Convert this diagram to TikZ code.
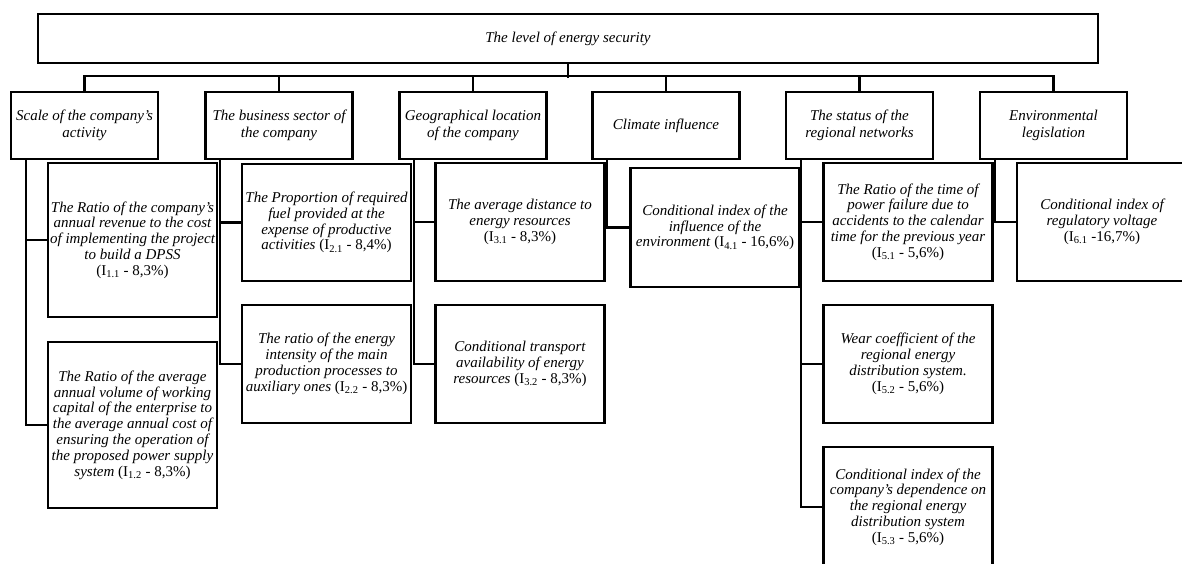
\documentclass[tikz,border=0pt]{standalone}
\usepackage{fontspec}
\setmainfont{Liberation Serif}
\usetikzlibrary{positioning}
\newcommand{\indic}[2]{\textup{(I\textsubscript{#1} - #2\%)}}

\begin{document}
\begin{tikzpicture}[
        x=1pt, y=-1pt,
        every node/.style={font=\fontsize{15}{15.8}\selectfont\itshape},
        box/.style={draw, line width=2.6pt, inner sep=0pt, align=center, minimum width=169pt},
        head/.style={box, minimum width=147pt, minimum height=67pt, font=\fontsize{15}{17}\selectfont\itshape},
        link/.style={line width=2.4pt},
    ]
        \useasboundingbox (0,0) rectangle (1182,563);
        \clip (0,0) rectangle (1182,563);

        % top level
        \node[box, minimum width=1060pt, minimum height=49pt] (top) at (568,38.5) {The level of energy security};

        % factor groups
        \node[head] (cat1) at (84.5,125.5) {Scale of the company's\\activity};
        \node[head] (cat2) at (279,125.5) {The business sector of\\the company};
        \node[head] (cat3) at (473,125.5) {Geographical location\\of the company};
        \node[head] (cat4) at (666,125.5) {Climate influence};
        \node[head] (cat5) at (859.5,125.5) {The status of the\\regional networks};
        \node[head] (cat6) at (1053.5,125.5) {Environmental\\legislation};

        % indicators, scale
        \node[box, minimum height=154pt] (i11) at (132.5,240) {The Ratio of the company's\\annual revenue to the cost\\of implementing the project\\to build a DPSS\\\indic{1.1}{8,3}};
        \node[box, minimum height=166pt] (i12) at (132.5,425) {The Ratio of the average\\annual volume of working\\capital of the enterprise to\\the average annual cost of\\ensuring the operation of\\the proposed power supply\\system \indic{1.2}{8,3}};

        % indicators, business sector
        \node[box, minimum height=117pt] (i21) at (326.5,222.5) {The Proportion of required\\fuel provided at the\\expense of productive\\activities \indic{2.1}{8,4}};
        \node[box, minimum height=118pt] (i22) at (326.5,364) {The ratio of the energy\\intensity of the main\\production processes to\\auxiliary ones \indic{2.2}{8,3}};

        % indicators, location
        \node[box, minimum height=118pt] (i31) at (520,222) {The average distance to\\energy resources\\\indic{3.1}{8,3}};
        \node[box, minimum height=118pt] (i32) at (520,364) {Conditional transport\\availability of energy\\resources \indic{3.2}{8,3}};

        % indicators, climate
        \node[box, minimum height=119pt] (i41) at (715,227.5) {Conditional index of the\\influence of the\\environment \indic{4.1}{16,6}};

        % indicators, regional networks
        \node[box, minimum height=118pt] (i51) at (908,222) {The Ratio of the time of\\power failure due to\\accidents to the calendar\\time for the previous year\\\indic{5.1}{5,6}};
        \node[box, minimum height=118pt] (i52) at (908,364) {Wear coefficient of the\\regional energy\\distribution system.\\\indic{5.2}{5,6}};
        \node[box, minimum height=120pt] (i53) at (908,507) {Conditional index of the\\company's dependence on\\the regional energy\\distribution system\\\indic{5.3}{5,6}};

        % indicators, legislation
        \node[box, minimum width=170pt, minimum height=118pt] (i61) at (1102,222) {Conditional index of\\regulatory voltage\\\textup{(I\textsubscript{6.1} -16,7\%)}};

        % links to the top
        \draw[link] (top.south) -- ++(0,14);
        \draw[link] (cat1.north) -- ++(0,-15) -| (cat6.north);
        \draw[link] (cat2.north) -- ++(0,-15);
        \draw[link] (cat3.north) -- ++(0,-15);
        \draw[link] (cat4.north) -- ++(0,-15);
        \draw[link] (cat5.north) -- ++(0,-15);

        % links down
        \draw[link] ([xshift=16pt]cat1.south west) |- (i11.west);
        \draw[link] ([xshift=16pt]cat1.south west) |- (i12.west);
        \draw[link] ([xshift=16pt]cat2.south west) |- (i21.west);
        \draw[link] ([xshift=16pt]cat2.south west) |- (i22.west);
        \draw[link] ([xshift=16pt]cat3.south west) |- (i31.west);
        \draw[link] ([xshift=16pt]cat3.south west) |- (i32.west);
        \draw[link] ([xshift=16pt]cat4.south west) |- (i41.west);
        \draw[link] ([xshift=16pt]cat5.south west) |- (i51.west);
        \draw[link] ([xshift=16pt]cat5.south west) |- (i52.west);
        \draw[link] ([xshift=16pt]cat5.south west) |- (i53.west);
        \draw[link] ([xshift=16pt]cat6.south west) |- (i61.west);
    \end{tikzpicture}
\end{document}
